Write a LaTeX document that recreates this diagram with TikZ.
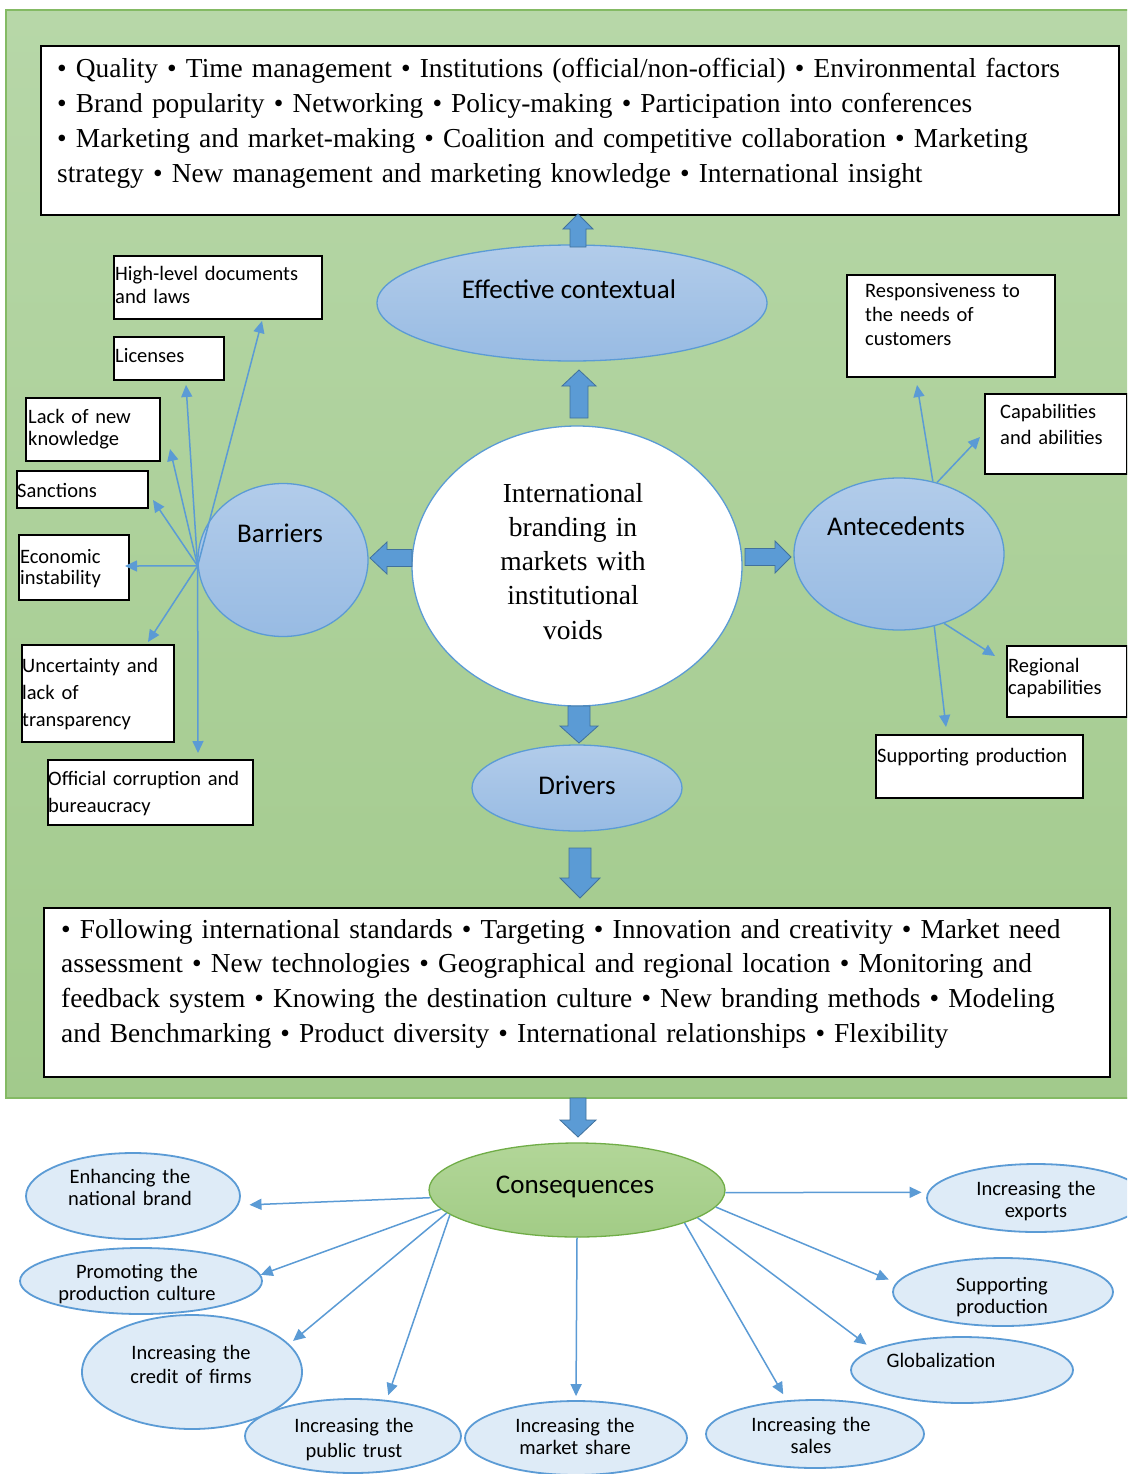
\documentclass[tikz,border=0pt]{standalone}
\usepackage{fontspec}
\setmainfont{Liberation Serif}
\newfontfamily\calib{Carlito}
\usetikzlibrary{shapes.geometric,arrows.meta}
\definecolor{bgtop}{RGB}{183,215,168}
\definecolor{bgbot}{RGB}{162,202,140}
\definecolor{bgborder}{RGB}{132,186,100}
\definecolor{ablue}{RGB}{91,155,213}
\definecolor{ablueD}{RGB}{65,113,156}
\definecolor{elltop}{RGB}{178,204,234}
\definecolor{ellbot}{RGB}{152,187,227}
\definecolor{leaffill}{RGB}{222,235,247}
\definecolor{cgreenL}{RGB}{178,214,152}
\definecolor{cgreen}{RGB}{162,204,134}
\definecolor{cgreenD}{RGB}{112,173,71}
\newcommand\VBlk[6]{\filldraw[blk] (#1-#5,#2) -- (#1-#5,#3) -- (#1-#6,#3) -- (#1,#4) -- (#1+#6,#3) -- (#1+#5,#3) -- (#1+#5,#2) -- cycle;}
\newcommand\HBlk[6]{\filldraw[blk] (#2,#1-#5) -- (#3,#1-#5) -- (#3,#1-#6) -- (#4,#1) -- (#3,#1+#6) -- (#3,#1+#5) -- (#2,#1+#5) -- cycle;}
\tikzset{
  wbox/.style={draw=black, line width=1.6pt, fill=white, rectangle, inner sep=0pt, anchor=north west},
  btxt/.style={font=\calib\fontsize{20.5}{23}\selectfont, align=left, inner sep=0pt, anchor=base west, text width=220pt},
  bigtxt/.style={font=\fontsize{27.4}{34.8}\selectfont, align=left, inner sep=0pt, anchor=base west},
  bell/.style={ellipse, draw=ablue, line width=1.3pt, top color=elltop, bottom color=ellbot, inner sep=0pt},
  elab/.style={font=\calib\fontsize{27}{30}\selectfont, inner sep=0pt, anchor=base},
  leaf/.style={ellipse, draw=ablue, line width=1.8pt, fill=leaffill, inner sep=0pt},
  ltxt/.style={font=\calib\fontsize{20.5}{22.5}\selectfont, align=center, inner sep=0pt, anchor=base, text width=200pt},
  sarr/.style={draw=ablue, line width=1.5pt, -{Triangle[length=12pt,width=11pt]}},
  blk/.style={fill=ablue, draw=ablueD, line width=0.8pt},
}
\begin{document}
\begin{tikzpicture}[x=1pt,y=-1pt]
\useasboundingbox (0,0) rectangle (1127,1474);
\clip (0,0) rectangle (1127,1474);
\fill[white] (0,0) rectangle (1127,1474);
% green panel
\shade[top color=bgtop, bottom color=bgbot, draw=bgborder, line width=1.5pt] (6,10) rectangle (1140,1098);

% top box
\node[wbox, minimum width=1078pt, minimum height=169pt] (topbox) at (40,45) {};
\node[bigtxt, text width=1070pt] (toptext) at (57,78) {• Quality • Time management • Institutions (official/non-official) • Environmental factors\\
• Brand popularity • Networking • Policy-making • Participation into conferences\\
• Marketing and market-making • Coalition and competitive collaboration • Marketing\\
strategy • New management and marketing knowledge • International insight};

% effective contextual
\node[bell, minimum width=390pt, minimum height=116pt] (eff) at (572,303) {};
\node[elab] (efft) at (569,298) {Effective contextual};

% centre
\node[ellipse, draw=ablue, line width=1.3pt, fill=white, inner sep=0pt, minimum width=330pt, minimum height=280pt] (ctr) at (577,566) {};
\node[bigtxt, align=center, text width=260pt, anchor=base, font=\fontsize{27.5}{34.3}\selectfont] (ctrt) at (573,502) {International\\branding in\\markets with\\institutional\\voids};

% barriers / antecedents / drivers
\node[bell, minimum width=170pt, minimum height=153pt] (barr) at (283,560) {};
\node[elab] (barrt) at (280,542) {Barriers};
\node[bell, minimum width=210pt, minimum height=152pt] (ante) at (899,554) {};
\node[elab] (antet) at (896,535) {Antecedents};
\node[bell, minimum width=210pt, minimum height=86pt] (drv) at (577,788) {};
\node[elab] (drvt) at (577,794) {Drivers};

% block arrows
\VBlk{578}{247}{229}{214}{8}{15}
\VBlk{579}{418}{386}{370}{9}{17}
\HBlk{558}{412}{387}{370}{8.5}{16}
\HBlk{557}{745}{775}{791}{8.5}{16}
\VBlk{579}{706}{726}{743}{11}{19}
\VBlk{580}{848}{878}{898}{11}{20}
\VBlk{578}{1098}{1120}{1137}{8}{18}

% barrier boxes
\node[wbox, minimum width=208pt, minimum height=63pt] (hl) at (113,255) {};
\node[btxt] (hlt) at (115,280) {High-level documents\\and laws};
\node[wbox, minimum width=110pt, minimum height=43pt] (lic) at (113,336) {};
\node[btxt] (lict) at (115,362) {Licenses};
\node[wbox, minimum width=134pt, minimum height=63pt] (lack) at (25,397) {};
\node[btxt, font=\calib\fontsize{20.5}{22}\selectfont] (lackt) at (28,423) {Lack of new\\knowledge};
\node[wbox, minimum width=131pt, minimum height=37pt] (sanc) at (16,470) {};
\node[btxt] (sanct) at (17,497) {Sanctions};
\node[wbox, minimum width=110pt, minimum height=65pt] (econ) at (18,534) {};
\node[btxt, font=\calib\fontsize{20.5}{21.5}\selectfont] (econt) at (20,563) {Economic\\instability};
\node[wbox, minimum width=152pt, minimum height=97pt] (unc) at (21,644) {};
\node[btxt, font=\calib\fontsize{20.5}{27}\selectfont] (unct) at (22,672) {Uncertainty and\\lack of\\transparency};
\node[wbox, minimum width=205pt, minimum height=65pt] (off) at (47,759) {};
\node[btxt, font=\calib\fontsize{20.5}{27}\selectfont] (offt) at (48,785) {Official corruption and\\bureaucracy};

% barrier arrows
\coordinate (tHL) at (262,321);
\coordinate (tLic) at (186,385);
\coordinate (tLack) at (170,449);
\coordinate (tSanc) at (153,500);
\coordinate (tEcon) at (125,566);
\coordinate (tUnc) at (148,642);
\coordinate (tOff) at (198,753);
\foreach \t in {tHL,tLic,tLack,tSanc,tEcon,tUnc,tOff}
  \draw[sarr] (barr.184) -- (\t);

% antecedent boxes
\node[wbox, minimum width=208pt, minimum height=102pt] (resp) at (846,274) {};
\node[btxt, font=\calib\fontsize{20.5}{24}\selectfont] (respt) at (865,297) {Responsiveness to\\the needs of\\customers};
\node[wbox, minimum width=142pt, minimum height=80pt] (cap) at (984,393) {};
\node[btxt, font=\calib\fontsize{20.5}{26}\selectfont] (capt) at (1000,418) {Capabilities\\and abilities};
\node[wbox, minimum width=120pt, minimum height=71pt] (reg) at (1006,645) {};
\node[btxt, font=\calib\fontsize{20.5}{22}\selectfont] (regt) at (1008,672) {Regional\\capabilities};
\node[wbox, minimum width=207pt, minimum height=63pt] (sup) at (875,734) {};
\node[btxt] (supt) at (877,762) {Supporting production};

\coordinate (tResp) at (917,385);
\coordinate (tCap) at (980,437);
\coordinate (tReg) at (995,656);
\coordinate (tSup) at (946,727);
\draw[sarr] (ante.65) -- (tResp);
\draw[sarr] (ante.62) -- (tCap);
\draw[sarr] (ante.-57) -- (tReg);
\draw[sarr] (ante.-64) -- (tSup);

% bottom box
\node[wbox, minimum width=1066pt, minimum height=169pt] (botbox) at (43,907) {};
\node[bigtxt, text width=1060pt] (bottext) at (61,938) {• Following international standards • Targeting • Innovation and creativity • Market need\\
assessment • New technologies • Geographical and regional location • Monitoring and\\
feedback system • Knowing the destination culture • New branding methods • Modeling\\
and Benchmarking • Product diversity • International relationships • Flexibility};

% consequences
\node[ellipse, draw=cgreenD, line width=1.3pt, top color=cgreenL, bottom color=cgreen, inner sep=0pt, minimum width=296pt, minimum height=94pt] (cons) at (577,1190) {};
\node[elab] (const) at (575,1193) {Consequences};

\node[leaf, minimum width=214pt, minimum height=86pt] (enh) at (133,1196) {};
\node[ltxt] (enht) at (130,1183) {Enhancing the\\national brand};
\node[leaf, minimum width=242pt, minimum height=66pt] (prom) at (141,1281) {};
\node[ltxt] (promt) at (137,1278) {Promoting the\\production culture};
\node[leaf, minimum width=220pt, minimum height=114pt] (cred) at (192,1372) {};
\node[ltxt, font=\calib\fontsize{20.5}{24}\selectfont] (credt) at (191,1359) {Increasing the\\credit of firms};
\node[leaf, minimum width=216pt, minimum height=74pt] (pub) at (353,1436) {};
\node[ltxt, font=\calib\fontsize{20.5}{25}\selectfont] (pubt) at (354,1432) {Increasing the\\public trust};
\node[leaf, minimum width=222pt, minimum height=74pt] (mkt) at (576,1438) {};
\node[ltxt] (mktt) at (575,1432) {Increasing the\\market share};
\node[leaf, minimum width=218pt, minimum height=68pt] (sales) at (815,1434) {};
\node[ltxt] (salest) at (811,1431) {Increasing the\\sales};
\node[leaf, minimum width=222pt, minimum height=66pt] (glob) at (962,1370) {};
\node[ltxt] (globt) at (941,1367) {Globalization};
\node[leaf, minimum width=220pt, minimum height=68pt] (supp) at (1003,1292) {};
\node[ltxt] (suppt) at (1002,1291) {Supporting\\production};
\node[leaf, minimum width=218pt, minimum height=68pt] (expo) at (1036,1198) {};
\node[ltxt] (expot) at (1036,1195) {Increasing the\\exports};

\draw[sarr, shorten >=11pt] (cons.183) -- (enh.-5.5);
\draw[sarr] (cons.188) -- (prom.3);
\draw[sarr, shorten >=5pt] (cons.190) -- (cred.16.5);
\draw[sarr, shorten >=5pt] (cons.191.5) -- (pub.47);
\draw[sarr, shorten >=4pt] (cons.270) -- (mkt.90);
\draw[sarr, shorten >=7pt] (cons.343.5) -- (sales.130);
\draw[sarr, shorten >=8pt] (cons.347.5) -- (glob.167);
\draw[sarr, shorten >=8pt] (cons.353.5) -- (supp.175);
\draw[sarr, shorten >=6pt] (cons.359) -- (expo.177.5);
\end{tikzpicture}
\end{document}
